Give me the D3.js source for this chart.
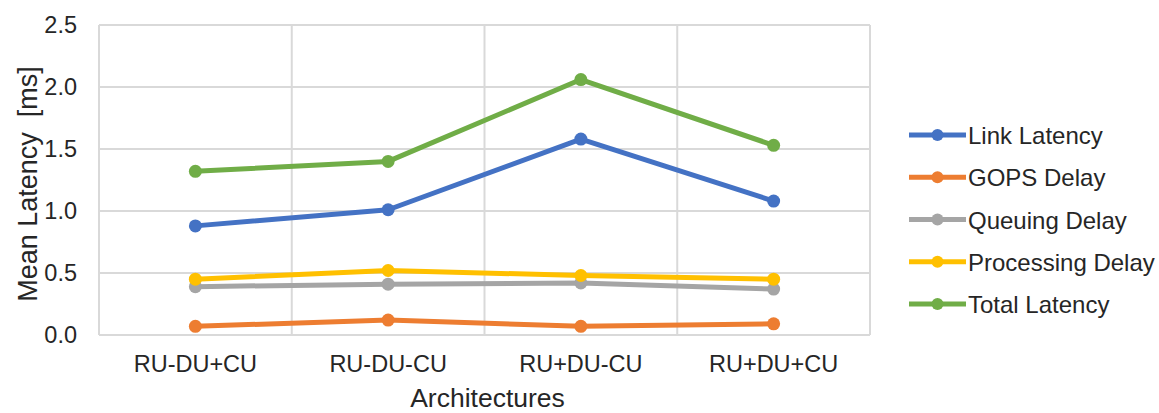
<!DOCTYPE html>
<html><head><meta charset="utf-8">
<script src="https://cdn.jsdelivr.net/npm/d3@7"></script>
<style>html,body{margin:0;padding:0;background:#fff;}svg{display:block;font-family:"Liberation Sans",Arial,sans-serif;}</style>
</head><body><svg id="chart" width="1159" height="413"></svg>
<script>
const categories = ["RU-DU+CU", "RU-DU-CU", "RU+DU-CU", "RU+DU+CU"];
const seriesNames = ["Link Latency", "GOPS Delay", "Queuing Delay", "Processing Delay", "Total Latency"];
const linkLatency = [0.88, 1.01, 1.58, 1.08];
const gopsDelay = [0.07, 0.12, 0.07, 0.09];
const queuingDelay = [0.39, 0.41, 0.42, 0.37];
const processingDelay = [0.45, 0.52, 0.48, 0.45];
const totalLatency = [1.32, 1.40, 2.06, 1.53];
const yTicks = [0, 0.5, 1.0, 1.5, 2.0, 2.5];
const colors = ["#4472C4", "#ED7D31", "#A5A5A5", "#FFC000", "#70AD47"];
const xTitle = "Architectures";
const yTitle = "Mean Latency  [ms]";

const seriesValues = [linkLatency, gopsDelay, queuingDelay, processingDelay, totalLatency];
const svg = d3.select("#chart");
const pLeft = 99, pRight = 870, pTop = 25, pBottom = 335;
const x = d3.scaleBand().domain(categories).range([pLeft, pRight]);
const y = d3.scaleLinear().domain([0, 2.5]).range([pBottom, pTop]);
const textColor = "#262626";

// gridlines
const grid = svg.append("g");
grid.selectAll("line.h").data(yTicks).join("line")
  .attr("class", "h")
  .attr("x1", pLeft).attr("x2", pRight).attr("y1", d => y(d)).attr("y2", d => y(d))
  .attr("stroke", "#d9d9d9").attr("stroke-width", 2);
grid.selectAll("line.v").data(d3.range(categories.length + 1)).join("line")
  .attr("class", "v")
  .attr("x1", i => pLeft + i * x.step()).attr("x2", i => pLeft + i * x.step())
  .attr("y1", pTop).attr("y2", pBottom)
  .attr("stroke", "#d9d9d9").attr("stroke-width", 2);

// y axis labels
const yAxis = svg.append("g").attr("transform", `translate(${pLeft},0)`)
  .call(d3.axisLeft(y).tickValues(yTicks).tickFormat(d3.format(".1f")).tickSize(0).tickPadding(22));
yAxis.select(".domain").remove();
yAxis.selectAll("text").attr("font-size", 23.5).attr("fill", textColor).attr("font-family", "Liberation Sans, Arial, sans-serif");

// x axis labels
const xAxis = svg.append("g").attr("transform", `translate(0,${pBottom})`)
  .call(d3.axisBottom(x).tickSize(0).tickPadding(20));
xAxis.select(".domain").remove();
xAxis.selectAll("text").attr("font-size", 23.5).attr("fill", textColor).attr("font-family", "Liberation Sans, Arial, sans-serif");

// axis titles
svg.append("text").attr("x", (pLeft + pRight) / 2 + 3).attr("y", 407)
  .attr("text-anchor", "middle").attr("font-size", 26.5).attr("fill", textColor).text(xTitle);
svg.append("text").attr("transform", "translate(37,184) rotate(-90)")
  .attr("text-anchor", "middle").attr("font-size", 27).attr("fill", textColor)
  .style("white-space", "pre").text(yTitle);

// series
const line = d3.line().x((d, i) => x(categories[i]) + x.bandwidth() / 2).y(d => y(d));
seriesValues.forEach((vals, si) => {
  const g = svg.append("g");
  g.append("path").datum(vals).attr("d", line).attr("fill", "none")
    .attr("stroke", colors[si]).attr("stroke-width", 5).attr("stroke-linejoin", "round");
  g.selectAll("circle").data(vals).join("circle")
    .attr("cx", (d, i) => x(categories[i]) + x.bandwidth() / 2).attr("cy", d => y(d))
    .attr("r", 6.5).attr("fill", colors[si]);
});

// legend
const legendY = d3.scalePoint().domain(seriesNames).range([135, 304]);
const lg = svg.append("g");
seriesNames.forEach((name, si) => {
  const yy = legendY(name);
  lg.append("line").attr("x1", 909).attr("x2", 966).attr("y1", yy).attr("y2", yy)
    .attr("stroke", colors[si]).attr("stroke-width", 5);
  lg.append("circle").attr("cx", 937.5).attr("cy", yy).attr("r", 6).attr("fill", colors[si]);
  lg.append("text").attr("x", 968).attr("y", yy + 9).attr("font-size", 24)
    .attr("fill", textColor).text(name);
});
</script></body></html>
